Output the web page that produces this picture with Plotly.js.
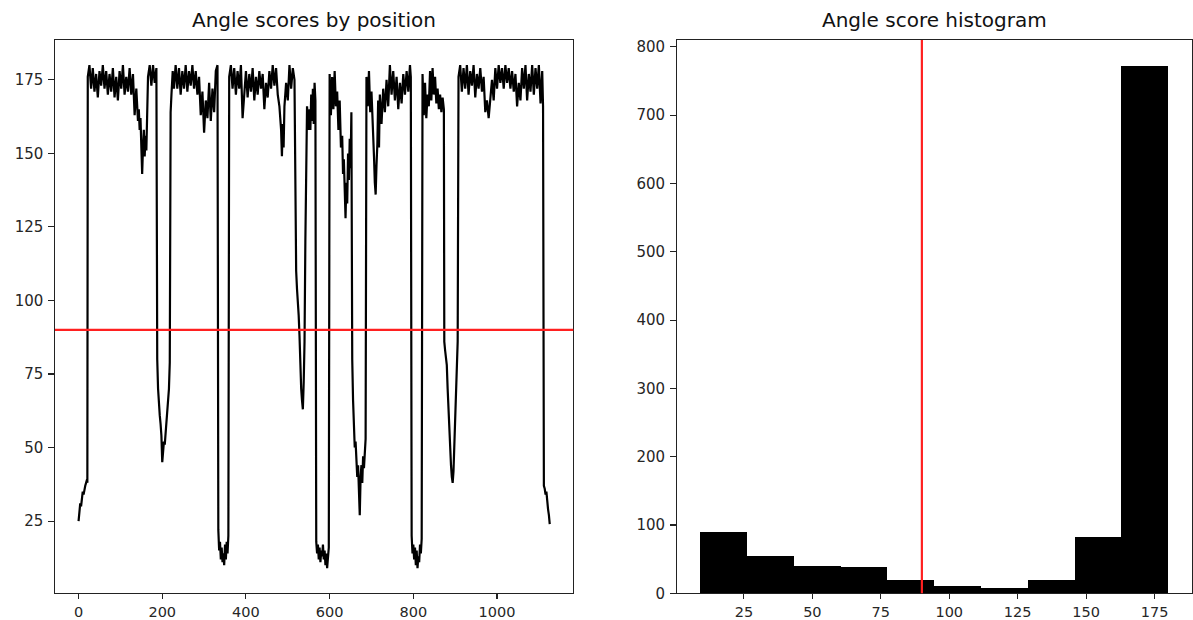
<!DOCTYPE html>
<html><head><meta charset="utf-8">
<script src="https://cdn.plot.ly/plotly-3.0.1.min.js"></script>
<style>html,body{margin:0;padding:0;background:#fff}#chart{width:1193px;height:620px}</style>
</head><body><div id="chart"></div>
<script>
// Angle score by sequence position
const positions = [
  0,2,4,6,8,10,12,14,16,18,20,21,
  22,26,30,34,38,42,46,50,54,58,62,66,70,74,78,82,86,90,94,98,102,106,110,114,118,122,126,130,134,138,142,
  144,146,148,150,152,154,156,158,160,162,164,166,170,174,178,182,186,
  188,190,192,194,196,198,200,202,204,206,208,210,212,214,216,218,220,
  222,225,228,232,236,240,244,248,252,256,260,264,268,272,276,280,284,288,292,296,300,304,308,312,316,320,324,328,332,
  334,336,338,340,342,344,346,348,350,352,354,356,358,
  360,364,368,372,376,380,384,388,392,396,400,404,408,412,416,420,424,428,432,436,440,444,448,452,456,460,464,468,472,476,480,484,486,488,490,492,496,500,504,508,512,516,
  518,520,522,524,526,528,530,532,534,536,538,540,542,544,546,550,552,554,556,558,560,562,564,566,
  568,570,572,574,576,578,580,582,584,586,588,590,592,594,596,598,
  600,603,606,609,612,615,618,621,624,627,630,632,634,636,638,640,642,644,646,648,650,652,
  653,654,656,658,660,662,664,666,668,670,672,674,676,678,680,682,684,686,
  688,691,694,697,700,703,706,708,710,712,714,716,718,720,724,728,732,736,740,744,748,752,756,760,764,768,772,776,780,784,788,792,794,
  796,798,800,802,804,806,808,810,812,814,816,818,820,
  822,825,828,831,834,837,840,843,846,849,852,855,858,861,864,867,870,873,
  874,876,878,880,882,884,886,888,890,892,894,896,898,900,902,904,906,
  908,912,916,920,924,928,932,936,940,944,948,952,956,960,964,968,972,976,980,984,988,992,996,1000,1004,1008,1012,1016,1020,1024,1028,1032,1036,1040,1044,1048,1052,1056,1060,1064,1068,1072,1076,1080,1084,1088,1092,1096,1100,1104,1108,1110,
  1112,1114,1116,1118,1120,1122,1124,1126
];
const angles = [
  25,28,31,30,33,35,34,36,37,38,39,38,
  176,180,172,179,171,177,169,178,173,180,172,178,170,177,171,179,169,176,168,178,172,180,170,176,171,179,170,177,163,172,161,
  165,158,162,155,143,152,158,149,156,151,160,176,180,173,180,174,179,
  80,70,63,61,58,54,45,49,52,51,55,56,60,64,70,79,164,
  170,178,172,180,172,179,170,178,172,180,171,178,173,180,172,178,170,176,163,171,157,168,162,174,161,172,164,178,180,
  22,15,18,12,16,11,14,10,17,12,18,14,20,
  176,180,172,179,170,178,172,180,162,171,178,169,177,171,179,168,176,170,178,172,177,165,174,169,178,172,180,173,179,170,166,158,149,160,152,166,174,168,180,172,179,175,
  120,110,104,100,95,88,76,70,66,63,72,86,120,150,166,158,165,158,170,161,172,160,174,168,
  18,14,17,12,16,11,15,13,17,12,15,10,14,9,13,16,
  177,163,176,165,178,166,171,158,168,152,156,143,148,135,128,140,133,150,141,155,145,164,
  100,80,66,56,50,52,45,40,44,38,27,40,44,38,47,43,50,53,
  176,166,178,164,171,156,149,140,136,146,153,168,152,170,160,172,164,175,166,180,170,178,168,176,165,174,167,177,170,178,171,180,176,
  20,14,17,12,16,10,15,9,13,11,17,14,19,
  177,163,174,162,170,166,178,168,179,170,176,167,172,165,170,164,169,165,
  86,83,80,78,70,62,55,48,44,40,38,42,50,58,66,72,86,
  176,180,171,179,172,180,170,178,173,180,169,177,172,179,171,176,164,168,162,170,175,168,179,172,180,174,179,172,180,174,179,172,178,171,177,166,174,168,179,172,180,168,177,171,180,170,179,172,180,167,178,166,
  37,36,34,35,31,29,27,24
];

// Histogram (bin edges and counts)
const binEdges = [9, 26.1, 43.2, 60.3, 77.4, 94.5, 111.6, 128.7, 145.8, 162.9, 180];
const binCounts = [90, 55, 40, 38, 20, 11, 8, 20, 82, 772];

const threshold = 90;
const leftXTicks = [0, 200, 400, 600, 800, 1000];
const leftYTicks = [25, 50, 75, 100, 125, 150, 175];
const rightXTicks = [25, 50, 75, 100, 125, 150, 175];
const rightYTicks = [0, 100, 200, 300, 400, 500, 600, 700, 800];
const titles = ['Angle scores by position', 'Angle score histogram'];

if (positions.length !== angles.length) console.error('length mismatch', positions.length, angles.length);

const binMids = binCounts.map((_, i) => (binEdges[i] + binEdges[i + 1]) / 2);
const binWidths = binCounts.map((_, i) => binEdges[i + 1] - binEdges[i]);

const W = 1193, H = 620;
const yDom = [1 - 593.3 / H, 1 - 40 / H];
const xDomL = [55 / W, 573.3 / W];
const xDomR = [676.7 / W, 1191.7 / W];
const FONT = 'DejaVu Sans, sans-serif';

const axisBase = {
  ticks: 'outside', tickwidth: 1.1, tickcolor: '#222',
  showline: true, mirror: true, linecolor: '#222', linewidth: 1.1,
  showgrid: false, zeroline: false, fixedrange: true
};
const xAxisBase = Object.assign({}, axisBase, {ticklen: 5, ticklabelstandoff: 0,
  tickfont: {family: FONT, size: 14.5, color: '#262626'}});
const yAxisBase = Object.assign({}, axisBase, {ticklen: 5.5, ticklabelstandoff: 2,
  tickfont: {family: FONT, size: 15, color: '#262626'}});

const traces = [
  {type: 'scatter', mode: 'lines', x: positions, y: angles, xaxis: 'x', yaxis: 'y',
   line: {color: '#000', width: 2.2}, hoverinfo: 'skip'},
  {type: 'bar', x: binMids, y: binCounts, width: binWidths, xaxis: 'x2', yaxis: 'y2',
   marker: {color: '#000', line: {width: 0}}, hoverinfo: 'skip'}
];

const layout = {
  width: W, height: H, margin: {l: 0, r: 0, t: 0, b: 0},
  paper_bgcolor: '#fff', plot_bgcolor: '#fff', showlegend: false, bargap: 0,
  font: {family: FONT, size: 15, color: '#262626'},
  xaxis: Object.assign({}, xAxisBase, {domain: xDomL, range: [-56.3, 1182.3], tickvals: leftXTicks, anchor: 'y'}),
  yaxis: Object.assign({}, yAxisBase, {domain: yDom, range: [0.45, 188.55], tickvals: leftYTicks, anchor: 'x'}),
  xaxis2: Object.assign({}, xAxisBase, {domain: xDomR, range: [0.45, 188.55], tickvals: rightXTicks, anchor: 'y2'}),
  yaxis2: Object.assign({}, yAxisBase, {domain: yDom, range: [0, 810], tickvals: rightYTicks, anchor: 'x2'}),
  shapes: [
    {type: 'line', xref: 'x domain', x0: 0, x1: 1, yref: 'y', y0: threshold, y1: threshold,
     line: {color: '#ff2020', width: 2.2}, layer: 'above'},
    {type: 'line', xref: 'x2', x0: threshold, x1: threshold, yref: 'y2 domain', y0: 0, y1: 1,
     line: {color: '#ff2020', width: 2.2}, layer: 'above'}
  ],
  annotations: [
    {text: titles[0], xref: 'paper', x: (xDomL[0] + xDomL[1]) / 2, yref: 'paper', y: yDom[1],
     xanchor: 'center', yanchor: 'bottom', yshift: 6, showarrow: false,
     font: {family: FONT, size: 20, color: '#111'}},
    {text: titles[1], xref: 'paper', x: (xDomR[0] + xDomR[1]) / 2, yref: 'paper', y: yDom[1],
     xanchor: 'center', yanchor: 'bottom', yshift: 6, showarrow: false,
     font: {family: FONT, size: 20, color: '#111'}}
  ]
};

Plotly.newPlot('chart', traces, layout, {staticPlot: true, displayModeBar: false});
</script></body></html>
